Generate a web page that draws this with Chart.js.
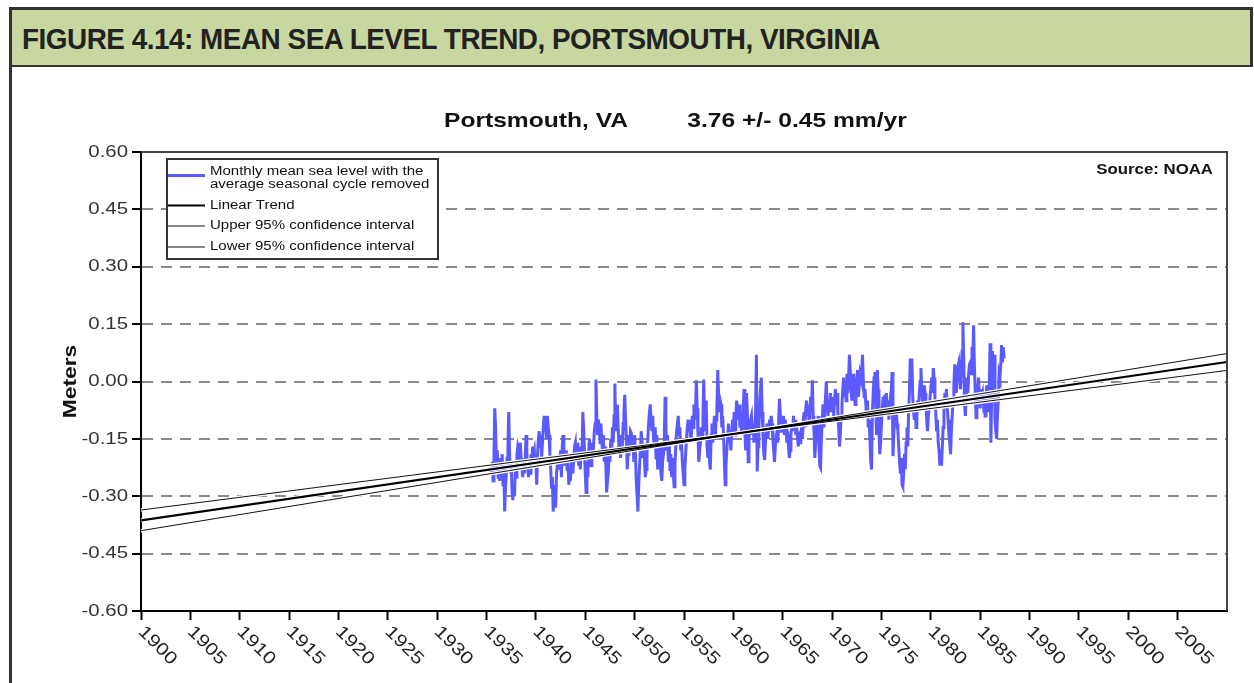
<!DOCTYPE html>
<html><head><meta charset="utf-8">
<script src="https://cdn.jsdelivr.net/npm/chart.js@4.4.1/dist/chart.umd.min.js"></script>
<style>
html,body{margin:0;padding:0;background:#fff;}
body{width:1254px;height:683px;position:relative;overflow:hidden;}
#chart{position:absolute;left:0;top:0;}
#hdr{position:absolute;left:9px;top:7px;width:1244px;height:60px;box-sizing:border-box;background:#c8d7a0;border-top:3px solid #333;border-left:3px solid #333;border-right:3px solid #333;border-bottom:2px solid #333;z-index:2;}
#hdrText{position:absolute;left:10px;top:0;height:55px;font:bold 29px "Liberation Sans",Arial,sans-serif;line-height:58px;color:#222;white-space:nowrap;transform-origin:0 50%;letter-spacing:-0.5px;}
#leftRule{position:absolute;left:9px;top:67px;width:3px;height:616px;background:#333;z-index:2;}
</style></head>
<body>
<div id="hdr"><span id="hdrText">FIGURE 4.14: MEAN SEA LEVEL TREND, PORTSMOUTH, VIRGINIA</span></div>
<div id="leftRule"></div>
<canvas id="chart" width="1254" height="683"></canvas>
<script>
// ---- data ----
const startYear = 1935.5;          // first monthly value (mid 1935), one value per month
const seaLevel = [                  // meters, seasonal cycle removed
 -0.24,-0.21,-0.26,-0.19,-0.07,-0.12,
 -0.22,-0.18,-0.25,-0.21,-0.26,-0.20,-0.23,-0.19,-0.27,-0.22,-0.34,-0.28,
 -0.24,-0.20,-0.17,-0.08,-0.19,-0.24,-0.21,-0.29,-0.31,-0.27,-0.30,-0.22,
 -0.25,-0.19,-0.17,-0.18,-0.21,-0.16,-0.20,-0.23,-0.25,-0.22,-0.24,-0.20,
 -0.14,-0.19,-0.23,-0.25,-0.22,-0.24,-0.19,-0.21,-0.17,-0.19,-0.18,-0.22,
 -0.21,-0.27,-0.19,-0.15,-0.13,-0.17,-0.14,-0.20,-0.16,-0.12,-0.09,-0.13,
 -0.10,-0.15,-0.09,-0.12,-0.14,-0.19,-0.23,-0.28,-0.25,-0.34,-0.30,-0.27,
 -0.33,-0.24,-0.22,-0.20,-0.23,-0.21,-0.18,-0.25,-0.17,-0.14,-0.19,-0.22,
 -0.20,-0.18,-0.23,-0.21,-0.27,-0.24,-0.26,-0.22,-0.19,-0.24,-0.20,-0.17,
 -0.16,-0.21,-0.18,-0.16,-0.22,-0.19,-0.23,-0.17,-0.20,-0.08,-0.12,-0.18,
 -0.24,-0.29,-0.21,-0.25,-0.19,-0.15,-0.18,-0.22,-0.16,-0.20,-0.17,-0.13,
 -0.11,0.005,-0.09,-0.14,-0.10,-0.12,-0.16,-0.11,-0.15,-0.19,-0.14,-0.21,
 -0.17,-0.22,-0.29,-0.26,-0.24,-0.18,-0.21,-0.15,-0.19,-0.12,-0.16,-0.09,
 -0.005,-0.13,-0.10,-0.06,-0.12,-0.18,-0.15,-0.20,-0.14,-0.17,-0.11,-0.08,
 -0.035,-0.10,-0.16,-0.23,-0.19,-0.14,-0.17,-0.13,-0.135,-0.18,-0.15,-0.21,
 -0.14,-0.19,-0.26,-0.30,-0.34,-0.27,-0.22,-0.18,-0.13,-0.16,-0.20,-0.17,
 -0.21,-0.25,-0.23,-0.19,-0.15,-0.11,-0.08,-0.06,-0.10,-0.13,-0.09,-0.15,
 -0.17,-0.12,-0.20,-0.14,-0.23,-0.18,-0.22,-0.17,-0.24,-0.26,-0.21,-0.19,
 -0.16,-0.04,-0.12,-0.18,-0.14,-0.21,-0.16,-0.23,-0.19,-0.25,-0.20,-0.24,
 -0.275,-0.22,-0.17,-0.13,-0.11,-0.09,-0.14,-0.12,-0.18,-0.16,-0.21,-0.24,
 -0.27,-0.23,-0.19,-0.15,-0.12,-0.10,-0.13,-0.11,-0.16,-0.14,-0.09,-0.12,
 -0.06,-0.10,-0.08,0.003,-0.07,-0.14,-0.21,-0.18,-0.16,-0.12,-0.15,-0.09,
 0.005,-0.09,-0.13,-0.05,-0.17,-0.20,-0.15,-0.21,-0.23,-0.14,-0.11,-0.16,
 -0.12,-0.09,-0.15,-0.10,-0.07,0.03,-0.03,-0.08,-0.05,-0.06,-0.12,-0.09,
 -0.14,-0.20,-0.27,-0.22,-0.18,-0.15,-0.11,-0.16,-0.14,-0.18,-0.13,-0.10,
 -0.12,-0.08,-0.14,-0.09,-0.05,-0.07,-0.10,-0.06,-0.12,-0.09,-0.14,-0.11,
 -0.07,-0.02,-0.13,-0.18,-0.03,-0.08,-0.21,-0.15,-0.12,-0.10,-0.09,-0.14,
 -0.11,-0.16,-0.12,-0.08,0.07,-0.235,-0.17,-0.12,-0.06,-0.02,0.01,-0.08,
 -0.14,-0.19,-0.205,-0.16,-0.13,-0.11,-0.15,-0.12,-0.10,-0.13,-0.09,-0.11,
 -0.15,-0.18,-0.21,-0.17,-0.14,-0.12,-0.16,-0.11,-0.045,-0.08,-0.13,-0.10,
 -0.12,-0.09,-0.14,-0.10,-0.12,-0.16,-0.13,-0.17,-0.20,-0.18,-0.14,-0.11,
 -0.13,-0.09,-0.12,-0.10,-0.14,-0.12,-0.15,-0.17,-0.13,-0.16,-0.14,-0.12,
 -0.15,-0.10,-0.08,-0.12,-0.07,-0.05,-0.09,-0.06,-0.11,-0.08,-0.04,-0.07,
 0.003,-0.09,-0.13,-0.20,-0.16,-0.11,-0.14,-0.09,-0.17,-0.22,-0.225,-0.15,
 -0.10,-0.06,-0.12,-0.08,-0.04,0.00,-0.06,-0.09,-0.05,-0.07,-0.03,-0.08,
 -0.06,-0.04,-0.09,-0.05,-0.02,-0.06,-0.03,-0.08,-0.12,-0.17,-0.14,-0.09,
 -0.06,-0.02,0.01,-0.04,-0.01,-0.05,0.02,-0.03,0.00,0.07,0.03,-0.02,
 -0.05,-0.01,0.02,-0.03,-0.06,-0.02,0.01,0.03,-0.04,-0.01,0.02,0.01,
 0.03,0.07,0.00,-0.04,-0.02,-0.06,-0.09,-0.05,-0.12,-0.10,-0.15,-0.21,
 -0.23,-0.08,-0.03,0.01,0.025,-0.05,-0.14,0.03,-0.02,-0.13,-0.19,-0.16,
 -0.11,-0.07,-0.04,-0.09,-0.035,-0.06,-0.03,-0.08,-0.05,-0.10,-0.07,-0.04,
 -0.02,0.025,-0.195,-0.14,-0.09,-0.12,-0.07,-0.11,-0.13,-0.17,-0.21,-0.24,
 -0.20,-0.27,-0.275,-0.24,-0.19,-0.23,-0.16,-0.12,-0.17,-0.08,-0.03,0.06,
 0.02,0.06,-0.04,-0.08,-0.10,-0.06,-0.12,-0.09,-0.05,-0.07,-0.03,0.00,
 0.035,-0.02,-0.06,-0.04,-0.01,-0.03,-0.05,-0.10,-0.13,-0.09,-0.07,-0.04,
 -0.02,0.01,-0.03,0.035,0.01,-0.04,-0.08,-0.13,-0.10,-0.16,-0.18,-0.22,
 -0.19,-0.22,-0.17,-0.12,-0.08,-0.03,-0.05,-0.02,-0.07,-0.10,-0.14,-0.16,
 -0.19,-0.13,-0.09,-0.05,-0.01,0.045,0.02,-0.03,0.01,0.04,0.05,0.02,
 -0.02,0.03,0.08,0.155,0.06,-0.06,-0.09,-0.04,0.01,-0.03,0.02,0.045,
 0.05,0.02,0.09,0.06,0.147,0.04,-0.03,-0.095,-0.06,-0.02,0.01,-0.04,
 -0.07,-0.02,-0.04,-0.03,-0.06,-0.05,-0.09,-0.04,-0.01,-0.05,-0.08,-0.03,
 0.10,-0.16,-0.03,0.08,-0.05,0.07,-0.10,-0.13,-0.15,-0.09,-0.05,0.02,
 0.01,0.04,0.095,0.05,0.09,0.06
];
const trendYears = [1900, 2010];
const linearTrend = [-0.363, 0.051];
const upperCI = [-0.390, 0.073];
const lowerCI = [-0.336, 0.029];
const yTickValues = [-0.60,-0.45,-0.30,-0.15,0.00,0.15,0.30,0.45,0.60];
const xTickYears = [1900,1905,1910,1915,1920,1925,1930,1935,1940,1945,1950,1955,1960,1965,1970,1975,1980,1985,1990,1995,2000,2005];
const titleLeft = 'Portsmouth, VA';
const titleRight = '3.76 +/- 0.45 mm/yr';
const legendLabels = [['Monthly mean sea level with the','average seasonal cycle removed'],['Linear Trend'],['Upper 95% confidence interval'],['Lower 95% confidence interval']];

// header text fit
(function(){
  const el = document.getElementById('hdrText');
  const w = el.getBoundingClientRect().width;
  el.style.transform = 'scaleX(' + (858 / w) + ')';
})();

const BLUE = '#5a5aff';
const SX = 1.2;
const canvas = document.getElementById('chart');
const ctx0 = canvas.getContext('2d');
const origFill = ctx0.fillText.bind(ctx0);
ctx0.fillText = function(t, x, y){ this.save(); this.translate(x, y); this.scale(SX, 1); origFill(t, 0, 0); this.restore(); };

const sl = seaLevel.map((v, i) => ({x: startYear + i / 12, y: v}));
const pts = arr => trendYears.map((yr, i) => ({x: yr, y: arr[i]}));

const deco = {
  id: 'deco',
  afterDraw(chart){
    const {ctx, chartArea: a, scales: {x}} = chart;
    ctx.save();
    ctx.strokeStyle = '#444'; ctx.lineWidth = 2;
    ctx.beginPath(); ctx.moveTo(a.left, a.top); ctx.lineTo(a.right, a.top); ctx.lineTo(a.right, a.bottom); ctx.stroke();
    // x labels rotated
    ctx.fillStyle = '#222';
    ctx.font = '17.5px "Liberation Sans", Arial, sans-serif';
    ctx.textAlign = 'left'; ctx.textBaseline = 'top';
    x.ticks.forEach(t => {
      const px = x.getPixelForValue(t.value);
      ctx.save(); ctx.translate(px + 6, a.bottom + 12); ctx.rotate(Math.PI / 4);
      ctx.fillText(String(t.value), 0, 0); ctx.restore();
    });
    // title
    ctx.font = 'bold 20.5px "Liberation Sans", Arial, sans-serif';
    ctx.textAlign = 'center'; ctx.textBaseline = 'middle'; ctx.fillStyle = '#111';
    ctx.fillText(titleLeft, 536, 121);
    ctx.fillText(titleRight, 797, 121);
    // source
    ctx.font = 'bold 14px "Liberation Sans", Arial, sans-serif';
    ctx.textAlign = 'right';
    ctx.fillText('Source: NOAA', 1213, 170);
    // legend
    ctx.fillStyle = '#fff'; ctx.fillRect(167, 159, 271, 100);
    ctx.strokeStyle = '#333'; ctx.lineWidth = 2; ctx.strokeRect(167, 159, 271, 100);
    const ds = chart.data.datasets;
    const rows = [{d: 0, y: 175.5, ty: [171.5, 184.5]}, {d: 1, y: 205.5, ty: [205.5]}, {d: 2, y: 226, ty: [226]}, {d: 3, y: 247, ty: [247]}];
    ctx.font = '12.5px "Liberation Sans", Arial, sans-serif';
    ctx.textAlign = 'left'; ctx.textBaseline = 'middle';
    rows.forEach((r, i) => {
      const d = ds[r.d];
      ctx.strokeStyle = d.borderColor; ctx.lineWidth = d.borderWidth;
      ctx.beginPath(); ctx.moveTo(168, r.y); ctx.lineTo(205, r.y); ctx.stroke();
      ctx.fillStyle = '#111';
      legendLabels[i].forEach((s, k) => ctx.fillText(s, 210, r.ty[k]));
    });
    ctx.restore();
  }
};

const white = '#ffffff';
new Chart(canvas, {
  type: 'line',
  data: {
    datasets: [
      {label: 'Monthly', data: sl, borderColor: BLUE, borderWidth: 3, pointRadius: 0, order: 10},
      {label: 'Linear Trend', data: pts(linearTrend), borderColor: '#000', borderWidth: 2.2, pointRadius: 0, order: 1},
      {label: 'Upper', data: pts(upperCI), borderColor: '#111', borderWidth: 1, pointRadius: 0, order: 2},
      {label: 'Lower', data: pts(lowerCI), borderColor: '#111', borderWidth: 1, pointRadius: 0, order: 3},
      {label: 'h1', data: pts(linearTrend), borderColor: white, borderWidth: 4, pointRadius: 0, order: 5},
      {label: 'h2', data: pts(upperCI), borderColor: white, borderWidth: 3.5, pointRadius: 0, order: 6},
      {label: 'h3', data: pts(lowerCI), borderColor: white, borderWidth: 3.5, pointRadius: 0, order: 7}
    ]
  },
  options: {
    responsive: false, animation: false, events: [],
    layout: {padding: {left: 55, top: 152, right: 27, bottom: 22}},
    plugins: {legend: {display: false}, tooltip: {enabled: false}, title: {display: false}},
    scales: {
      x: {
        type: 'linear', min: 1900, max: 2010,
        afterBuildTicks: s => { s.ticks = xTickYears.map(v => ({value: v})); },
        afterFit: s => { s.height = 50; },
        ticks: {display: false},
        grid: {display: true, drawOnChartArea: false, drawTicks: true, tickLength: 9, tickColor: '#000', tickWidth: 2},
        border: {display: true, color: '#000', width: 2}
      },
      y: {
        min: -0.6, max: 0.6,
        afterBuildTicks: s => { s.ticks = yTickValues.map(v => ({value: v})); },
        afterFit: s => { s.width = 86; },
        ticks: {
          callback: v => (Math.abs(v) < 1e-9 ? 0 : v).toFixed(2),
          font: {family: '"Liberation Sans", Arial, sans-serif', size: 17}, color: '#333', padding: 4
        },
        title: {display: true, text: 'Meters', color: '#111', font: {family: '"Liberation Sans", Arial, sans-serif', size: 19, weight: 'bold'}},
        grid: {
          color: c => (c.tick && Math.abs(Math.abs(c.tick.value) - 0.6) < 1e-6) ? 'rgba(0,0,0,0)' : '#8a8a8a',
          lineWidth: 2, tickLength: 9, tickColor: '#000', tickWidth: 2, tickBorderDash: []
        },
        border: {display: true, color: '#000', width: 2, dash: [11, 8]}
      }
    }
  },
  plugins: [deco]
});
</script>
</body></html>
